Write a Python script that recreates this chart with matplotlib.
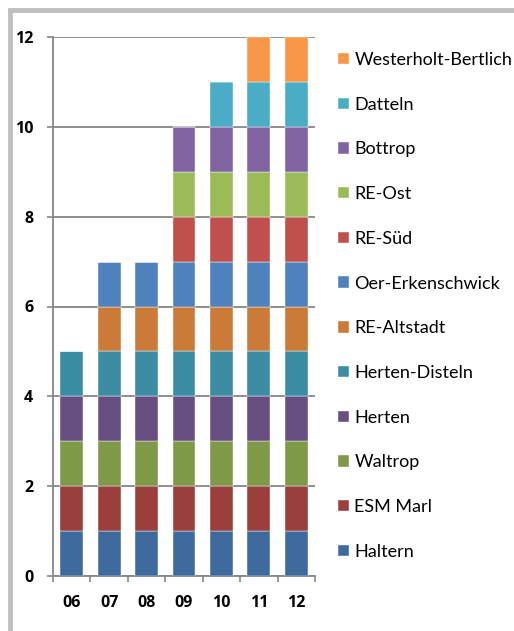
import matplotlib.pyplot as plt
from matplotlib.lines import Line2D
import numpy as np

plt.rcParams['font.family'] = ['Lato', 'DejaVu Sans']

# years on the x axis
years = ['06', '07', '08', '09', '10', '11', '12']

# series, bottom to top of each stack
series = ['Haltern', 'ESM Marl', 'Waltrop', 'Herten', 'Herten-Disteln',
          'RE-Altstadt', 'Oer-Erkenschwick', 'RE-Süd', 'RE-Ost', 'Bottrop',
          'Datteln', 'Westerholt-Bertlich']
haltern = [1, 1, 1, 1, 1, 1, 1]
esm_marl = [1, 1, 1, 1, 1, 1, 1]
waltrop = [1, 1, 1, 1, 1, 1, 1]
herten = [1, 1, 1, 1, 1, 1, 1]
herten_disteln = [1, 1, 1, 1, 1, 1, 1]
re_altstadt = [0, 1, 1, 1, 1, 1, 1]
oer_erkenschwick = [0, 1, 1, 1, 1, 1, 1]
re_sued = [0, 0, 0, 1, 1, 1, 1]
re_ost = [0, 0, 0, 1, 1, 1, 1]
bottrop = [0, 0, 0, 1, 1, 1, 1]
datteln = [0, 0, 0, 0, 1, 1, 1]
westerholt = [0, 0, 0, 0, 0, 1, 1]
values = [haltern, esm_marl, waltrop, herten, herten_disteln, re_altstadt,
          oer_erkenschwick, re_sued, re_ost, bottrop, datteln, westerholt]

colors = ['#3E6A9E', '#9B3F3D', '#7E9A49', '#674F82', '#3C8DA3', '#CB7A38',
          '#4F81BD', '#C0504D', '#9BBB59', '#8064A2', '#4BACC6', '#F79646']

fig = plt.figure(figsize=(5.14, 6.31), dpi=100)
ax = fig.add_axes([53 / 514, 1 - 576 / 631, 262 / 514, 539 / 631])

# gray frame (left and top edges visible)
fx = 10 / 514
fy = 1 - 10 / 631
fig.add_artist(Line2D([fx, fx], [-0.05, fy + 1.7 / 631], transform=fig.transFigure,
                      color='#BFBFBF', linewidth=3.5, solid_capstyle='butt'))
fig.add_artist(Line2D([fx - 1.7 / 514, 1.05], [fy, fy], transform=fig.transFigure,
                      color='#BFBFBF', linewidth=3.5, solid_capstyle='butt'))

x = np.arange(len(years))
bottom = np.zeros(len(years))
handles = []
for name, vals, col in zip(series, values, colors):
    vals = np.array(vals, dtype=float)
    b = ax.bar(x, vals, bottom=bottom, width=0.61, color=col,
               edgecolor='#FFFFFF', linewidth=0.3, label=name, zorder=3)
    handles.append(b)
    bottom += vals

tick_font = dict(family=['Open Sans', 'DejaVu Sans'], fontweight='bold', fontsize=11.5)
ax.set_xlim(-0.5, len(years) - 0.5)
ax.set_ylim(0, 12)
ax.set_yticks(range(0, 13, 2))
ax.set_yticklabels([str(v) for v in range(0, 13, 2)], **tick_font)
ax.set_xticks(x)
ax.set_xticklabels(years, **tick_font)
ax.set_xticks(np.arange(-0.5, len(years)), minor=True)
ax.tick_params(axis='x', which='major', length=0, pad=14)
ax.tick_params(axis='x', which='minor', length=4.3, width=1.2, color='#868686')
ax.tick_params(axis='y', length=4.3, width=1.2, color='#868686', pad=10)
ax.yaxis.grid(True, color='#868686', linewidth=1.3, zorder=0)
for s in ['top', 'right']:
    ax.spines[s].set_visible(False)
for s in ['left', 'bottom']:
    ax.spines[s].set_color('#868686')
    ax.spines[s].set_linewidth(1.3)

fig.legend(handles[::-1], series[::-1], loc='upper left',
           bbox_to_anchor=(338 / 514, 1 - 52 / 631), frameon=False,
           fontsize=13, labelspacing=1.59, handlelength=0.6, handleheight=0.6,
           handletextpad=0.3, borderpad=0, borderaxespad=0)

fig.savefig('out.png', dpi=100)
